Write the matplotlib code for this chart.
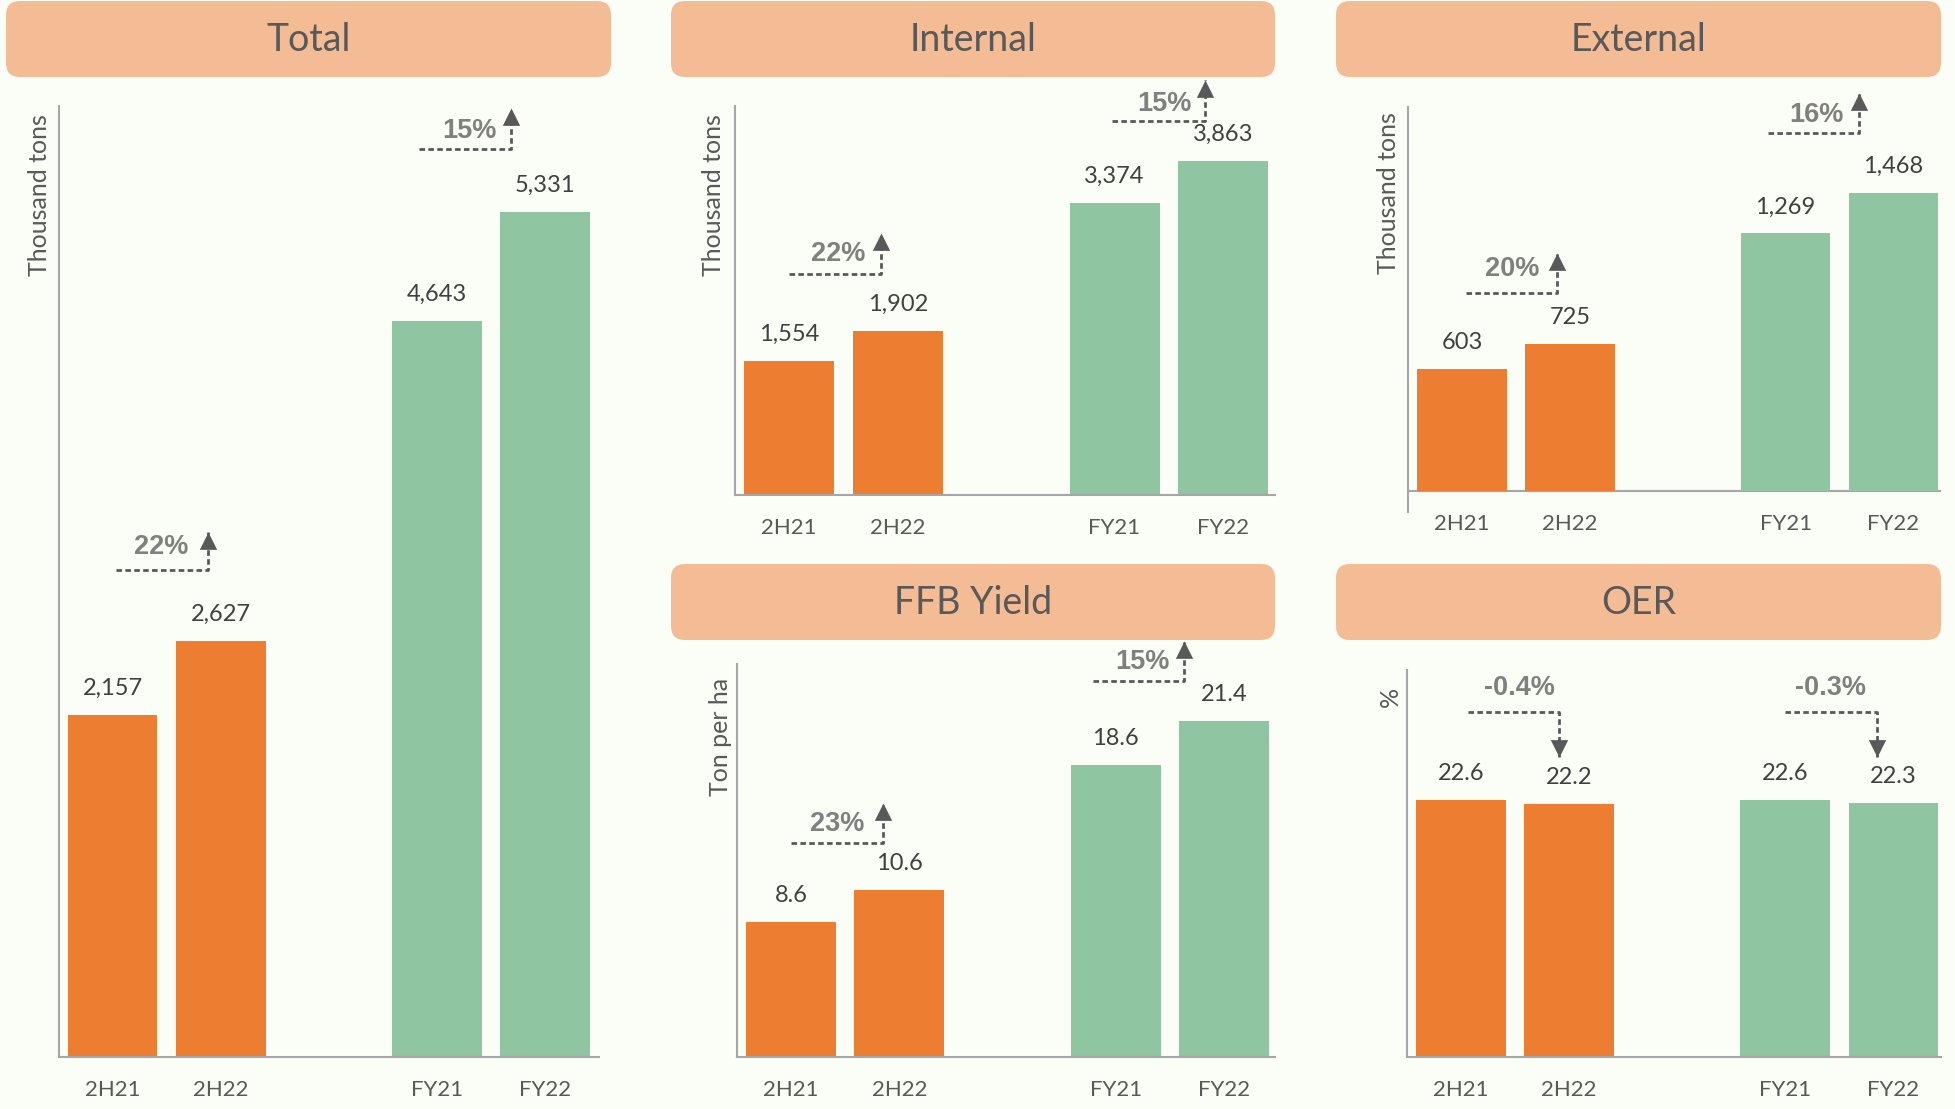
import matplotlib
matplotlib.use("Agg")
import matplotlib.pyplot as plt
from matplotlib.patches import FancyBboxPatch
from matplotlib.path import Path

# ---------------- data ----------------
categories = ["2H21", "2H22", "FY21", "FY22"]
total = [2157, 2627, 4643, 5331]
internal = [1554, 1902, 3374, 3863]
external = [603, 725, 1269, 1468]
ffb_yield = [8.6, 10.6, 18.6, 21.4]
oer = [22.6, 22.2, 22.6, 22.3]

total_chg = ["22%", "15%"]
internal_chg = ["22%", "15%"]
external_chg = ["20%", "16%"]
ffb_chg = ["23%", "15%"]
oer_chg = ["-0.4%", "-0.3%"]

titles = ["Total", "Internal", "External", "FFB Yield", "OER"]
ylabels = ["Thousand tons", "Thousand tons", "Thousand tons", "Ton per ha", "%"]

# ---------------- style ----------------
W, H = 1956, 1109
BG = "#FBFDF7"
ORANGE = "#ED7D31"
GREEN = "#8FC5A0"
HEAD = "#F4BC94"
TXT = "#595959"
PCT = "#808080"
SPINE = "#A6A6A6"
FONT = "Lato"

plt.rcParams["font.family"] = [FONT, "DejaVu Sans"]

fig = plt.figure(figsize=(W / 100, H / 100), dpi=100, facecolor=BG)

# background overlay in pixel coordinates
bg = fig.add_axes([0, 0, 1, 1], zorder=0)
bg.set_xlim(0, W)
bg.set_ylim(H, 0)
bg.axis("off")

headers = [(6, 1, 611, 77), (671, 1, 1275, 77), (1336, 1, 1941, 77),
           (671, 564, 1275, 640), (1336, 564, 1941, 640)]
for (x0, y0, x1, y1), t in zip(headers, titles):
    bg.add_patch(FancyBboxPatch((x0, y0), x1 - x0, y1 - y0,
                                boxstyle="round,pad=0,rounding_size=14",
                                fc=HEAD, ec="none"))
    bg.text((x0 + x1) / 2, (y0 + y1) / 2 + 1, t, ha="center", va="center",
            fontsize=27, color=TXT, family=FONT)

positions = [0, 1, 3, 4]
colors = [ORANGE, ORANGE, GREEN, GREEN]

def fmt_int(v):
    return f"{v:,}"

def fmt_dec(v):
    return f"{v:.1f}"

panels = [
    dict(box=(58.6, 106, 599, 1057), ylim=(0, 6000), xr=4.5, vals=total, fmt=fmt_int,
         chg=total_chg, lab=(-19, -8),
         ann=[(0.03, 0.88, 3070, 3310, 0.45, 3215), (2.83, 3.69, 5729, 5987, 3.30, 5840)]),
    dict(box=(735, 106, 1275, 495), ylim=(0, 4500), xr=4.48, vals=internal, fmt=fmt_int,
         chg=internal_chg, lab=(-21, -8),
         ann=[(0.0, 0.85, 2555, 3029, 0.456, 2790), (2.98, 3.83, 4324, 4798, 3.46, 4525)]),
    dict(box=(1408, 107, 1941, 512), ylim=(-103, 1892), xr=4.44, vals=external, fmt=fmt_int,
         chg=external_chg, lab=(-20, -5),
         ann=[(0.04, 0.88, 975, 1172, 0.47, 1095), (2.84, 3.68, 1764, 1961, 3.29, 1855)]),
    dict(box=(737, 664, 1275, 1057), ylim=(0, 25), xr=4.47, vals=ffb_yield, fmt=fmt_dec,
         chg=ffb_chg, lab=(-17, -14),
         ann=[(0.0, 0.85, 13.6, 16.15, 0.43, 14.85), (2.79, 3.63, 23.9, 26.45, 3.25, 25.15)]),
    dict(box=(1407, 670, 1941, 1057), ylim=(0, 34), xr=4.44, vals=oer, fmt=fmt_dec,
         chg=oer_chg, lab=(-17, -17),
         ann=[(0.065, 0.91, 30.3, 26.4, 0.54, 32.45), (3.0, 3.85, 30.3, 26.4, 3.42, 32.45)]),
]

up_tri = Path([(0, 0), (-0.5, -1), (0.5, -1), (0, 0)],
              [Path.MOVETO, Path.LINETO, Path.LINETO, Path.CLOSEPOLY])
dn_tri = Path([(0, 0), (-0.5, 1), (0.5, 1), (0, 0)],
              [Path.MOVETO, Path.LINETO, Path.LINETO, Path.CLOSEPOLY])

px2pt = 72 / 100

for p, ylab in zip(panels, ylabels):
    l, t, r, b = p["box"]
    ax = fig.add_axes([l / W, (H - b) / H, (r - l) / W, (b - t) / H], zorder=1)
    ax.patch.set_alpha(0)
    ax.bar(positions, p["vals"], width=0.83, color=colors, zorder=2)
    ax.set_xlim(-0.5, p["xr"])
    ax.set_ylim(*p["ylim"])
    for s in ["top", "right"]:
        ax.spines[s].set_visible(False)
    ax.spines["left"].set_color(SPINE)
    ax.spines["left"].set_linewidth(1.5)
    pad = 16.5
    if p["ylim"][0] < 0:
        ax.spines["bottom"].set_visible(False)
        ax.axhline(0, color=SPINE, lw=1.5, zorder=1)
        pad -= 21 * px2pt
    else:
        ax.spines["bottom"].set_color(SPINE)
        ax.spines["bottom"].set_linewidth(1.5)
    ax.set_yticks([])
    ax.set_xticks(positions)
    ax.set_xticklabels(categories, fontsize=16, color=TXT, family=FONT)
    ax.tick_params(axis="x", length=0, pad=pad)

    for x, v in zip(positions, p["vals"]):
        ax.annotate(p["fmt"](v), (x, v), xytext=(0, 20 * px2pt),
                    textcoords="offset points", ha="center", va="baseline",
                    fontsize=17, color="#404040", family=FONT)

    dx, dy = p["lab"]
    ax.annotate(ylab, (0, 1), xycoords="axes fraction",
                xytext=(dx * px2pt, dy * px2pt), textcoords="offset points",
                rotation=90, ha="center", va="top", fontsize=18, color=TXT,
                family=FONT)

    for (x0, x1, yl, ytip, tx, ty), lab in zip(p["ann"], p["chg"]):
        ax.plot([x0, x1, x1], [yl, yl, ytip], ls=(0, (2.0, 1.2)), lw=2.0,
                color=TXT, clip_on=False, zorder=3, dash_capstyle="butt")
        tri = up_tri if ytip > yl else dn_tri
        ax.plot([x1], [ytip], marker=tri, ms=25, color=TXT, mew=0,
                clip_on=False, zorder=4)
        ax.text(tx, ty, lab, ha="center", va="center", fontsize=19.5,
                fontweight="bold", color=PCT, family="Liberation Sans",
                clip_on=False, zorder=4)

fig.savefig("out.png", dpi=100, facecolor=BG)
